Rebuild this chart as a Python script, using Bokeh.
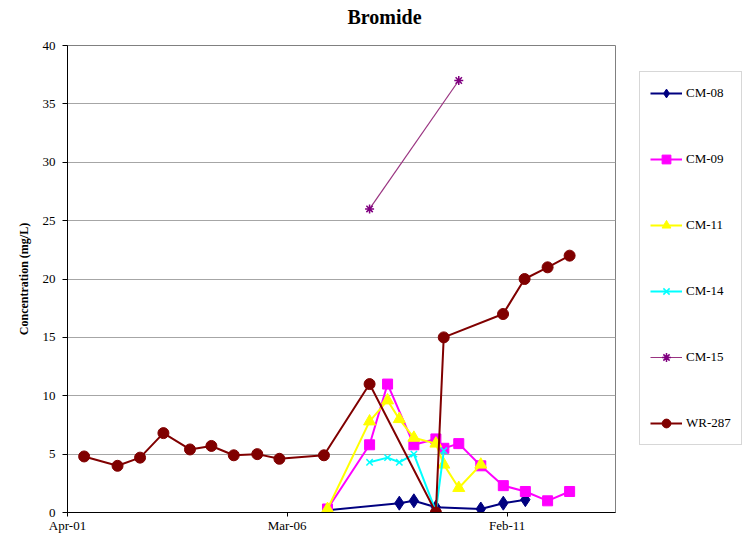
import pandas as pd
from bokeh.plotting import figure
from bokeh.layouts import row
from bokeh.models import (Range1d, FixedTicker, DatetimeTickFormatter, Legend,
                          LegendItem, Title)
from bokeh.embed import file_html
from bokeh.resources import INLINE

# ---------------- data ----------------
x_tick_dates = ["2001-04-01", "2006-03-01", "2011-02-01"]
y_ticks = [0, 5, 10, 15, 20, 25, 30, 35, 40]

cm08_dates = ["2007-01-25", "2008-09-03", "2008-12-31", "2009-06-29",
              "2010-07-01", "2011-01-01", "2011-06-30"]
cm08_vals = [0.2, 0.8, 1.0, 0.45, 0.3, 0.8, 1.1]

cm09_dates = ["2007-01-25", "2008-01-04", "2008-05-30", "2008-12-31",
              "2009-06-29", "2009-09-02", "2010-01-02", "2010-07-01",
              "2011-01-01", "2011-06-30", "2011-12-29", "2012-06-26"]
cm09_vals = [0.3, 5.8, 11.0, 5.8, 6.3, 5.5, 5.9, 4.0, 2.3, 1.8, 1.0, 1.8]

cm11_dates = ["2007-01-25", "2008-01-04", "2008-05-30", "2008-09-03",
              "2008-12-31", "2009-06-29", "2009-09-02", "2010-01-02",
              "2010-07-01"]
cm11_vals = [0.3, 7.8, 9.6, 8.0, 6.4, 5.9, 4.1, 2.1, 4.1]

cm14_dates = ["2008-01-04", "2008-05-30", "2008-09-03", "2008-12-31",
              "2009-06-29", "2009-09-02"]
cm14_vals = [4.3, 4.7, 4.3, 5.0, 0.1, 5.3]

cm15_dates = ["2008-01-04", "2010-01-02"]
cm15_vals = [26.0, 37.0]

wr287_dates = ["2001-08-15", "2002-05-15", "2002-11-15", "2003-05-25",
               "2003-12-28", "2004-06-20", "2004-12-20", "2005-06-30",
               "2005-12-28", "2006-12-27", "2008-01-04", "2009-06-29",
               "2009-09-01", "2010-12-30", "2011-06-24", "2011-12-29",
               "2012-06-26"]
wr287_vals = [4.8, 4.0, 4.7, 6.8, 5.4, 5.7, 4.9, 5.0, 4.6, 4.9, 11.0, 0.0,
              15.0, 17.0, 20.0, 21.0, 22.0]

series = [
    ("CM-08", cm08_dates, cm08_vals, "#000080", "#000080", 2, "diamond", 14, 1),
    ("CM-09", cm09_dates, cm09_vals, "#FF00FF", "#FF00FF", 2, "square", 10, 1),
    ("CM-11", cm11_dates, cm11_vals, "#FFFF00", "#FFFF00", 2, "triangle", 12, 1),
    ("CM-14", cm14_dates, cm14_vals, "#00FFFF", "#00FFFF", 2, "x", 9, 1.5),
    ("CM-15", cm15_dates, cm15_vals, "#993380", "#800080", 1.2, "asterisk", 9, 1.5),
    ("WR-287", wr287_dates, wr287_vals, "#800000", "#800000", 2, "circle", 11, 1),
]

FONT = "Liberation Serif"

p = figure(width=630, height=538, x_axis_type="datetime",
           output_backend="svg", toolbar_location=None,
           x_range=Range1d(pd.Timestamp("2001-04-01"), pd.Timestamp("2013-07-06")),
           y_range=Range1d(0, 40),
           min_border_left=67, min_border_right=15,
           min_border_top=45, min_border_bottom=26)
p.title = None
# spacer (closest to the frame) then the main title
spacer = Title(text=" ", text_font=FONT, text_font_size="12px", standoff=0,
               text_color="white")
p.add_layout(spacer, "above")
t = Title(text="Bromide", align="left", offset=280, standoff=4,
          text_font=FONT, text_font_size="20px", text_font_style="bold",
          text_color="black")
p.add_layout(t, "above")

p.outline_line_color = "#808080"
p.outline_line_width = 1
p.background_fill_color = "white"
p.border_fill_color = "white"

# axes
p.xaxis.ticker = FixedTicker(ticks=[pd.Timestamp(d).value / 1e6 for d in x_tick_dates])
fmt = "%b-%y"
p.xaxis.formatter = DatetimeTickFormatter(
    years=fmt, months=fmt, days=fmt, hours=fmt, hourmin=fmt, minutes=fmt,
    minsec=fmt, seconds=fmt, milliseconds=fmt, microseconds=fmt)
p.yaxis.ticker = FixedTicker(ticks=y_ticks)
for ax in (p.xaxis[0], p.yaxis[0]):
    ax.axis_line_color = "black"
    ax.axis_line_width = 1
    ax.major_tick_line_color = "black"
    ax.major_tick_in = 0
    ax.minor_tick_line_color = None
    ax.major_label_text_font = FONT
    ax.major_label_text_color = "black"
p.xaxis.major_tick_out = 4
p.xaxis.major_label_standoff = 1
p.xaxis.major_label_text_font_size = "13px"
p.yaxis.major_tick_out = 5
p.yaxis.major_label_standoff = 7
p.yaxis.major_label_text_font_size = "13px"
p.yaxis.axis_label = "Concentration (mg/L)"
p.yaxis.axis_label_text_font = FONT
p.yaxis.axis_label_text_font_size = "12px"
p.yaxis.axis_label_text_font_style = "bold"
p.yaxis.axis_label_text_color = "black"
p.yaxis.axis_label_standoff = 9

p.xgrid.grid_line_color = None
p.ygrid.ticker = FixedTicker(ticks=y_ticks)
p.ygrid.grid_line_color = "#a6a6a6"
p.ygrid.grid_line_width = 1

# legend lives in a small companion figure to the right of the plot area;
# its renderers share the data but fall outside that figure's visible range
pl = figure(width=115, height=538, output_backend="svg", toolbar_location=None,
            x_range=Range1d(0, 1), y_range=Range1d(-100, -99),
            x_axis_location=None, y_axis_location=None,
            min_border=0, min_border_left=0, min_border_right=0,
            min_border_top=0, min_border_bottom=0)
pl.outline_line_color = None
pl.xgrid.grid_line_color = None
pl.ygrid.grid_line_color = None
pl.background_fill_color = "white"
pl.border_fill_color = "white"

items = []
for name, dates, vals, lcol, mcol, lw, marker, size, mlw in series:
    xs = pd.to_datetime(dates)
    p.line(xs, vals, line_color=lcol, line_width=lw)
    p.scatter(xs, vals, marker=marker, size=size, fill_color=mcol,
              line_color=mcol, line_width=mlw)
    lr = pl.line(xs, vals, line_color=lcol, line_width=lw)
    sr = pl.scatter(xs, vals, marker=marker, size=size, fill_color=mcol,
                    line_color=mcol, line_width=mlw)
    items.append(LegendItem(label=name, renderers=[lr, sr]))

legend = Legend(items=items, location=(9, 67), margin=0,
                glyph_width=32, glyph_height=22, spacing=44, padding=10,
                label_standoff=4, label_height=22,
                label_text_font=FONT, label_text_font_size="13px",
                label_text_color="black",
                border_line_color="#b0b0b0", border_line_width=1,
                background_fill_color="white", background_fill_alpha=1)
pl.add_layout(legend, "center")

layout = row(p, pl, spacing=0)
open("out.html", "w").write(file_html(layout, INLINE))
